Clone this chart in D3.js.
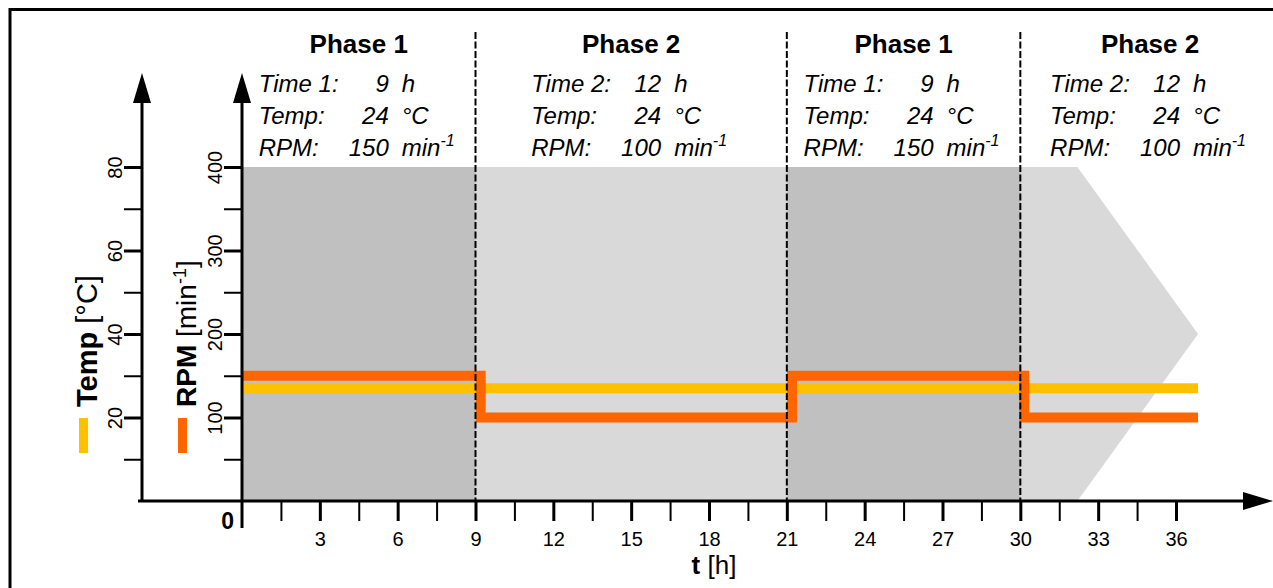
<!DOCTYPE html>
<html>
<head>
<meta charset="utf-8">
<script src="https://cdn.jsdelivr.net/npm/d3@7"></script>
<style>
  body{ margin:0; background:#fff; }
  svg text{ font-family:"Liberation Sans", Arial, sans-serif; fill:#000; }
</style>
</head>
<body>
<div id="chart"></div>
<script>
// Phase table, as printed above the plot.
const phaseNames  = [ 'Phase 1', 'Phase 2', 'Phase 1', 'Phase 2' ];
const phaseStart  = [ 0, 9, 21, 30 ];
const phaseEnd    = [ 9, 21, 30, 40 ];
const timeLabels  = [ 'Time 1:', 'Time 2:', 'Time 1:', 'Time 2:' ];
const phaseHours  = [ 9, 12, 9, 12 ];
const phaseTemps  = [ 24, 24, 24, 24 ];
const phaseRpms   = [ 150, 100, 150, 100 ];

// Traces as drawn.
const rpmTimes    = [ 0, 9.2, 21.2, 30.15, 36.85 ];
const rpmValues   = [ 150, 100, 150, 100, 100 ];
const tempTimes   = [ 0, 36.85 ];
const tempValues  = [ 27, 27 ];

// Grey background arrow (hours).
const arrowFlatEnd = 32.2;
const arrowTip     = 36.85;

// Ticks.
const xTicks    = d3.range( 1.5, 36.01, 1.5 );
const tempTicks = [ 10, 20, 30, 40, 50, 60, 70, 80 ];
const rpmTicks  = [ 50, 100, 150, 200, 250, 300, 350, 400 ];

const W = 1273, H = 588;
const YELLOW = '#ffc000', ORANGE = '#ff6600', DARK = '#c0c0c0', LIGHT = '#d9d9d9';

const svg = d3.select( '#chart' ).append( 'svg' )
  .attr( 'width', W ).attr( 'height', H );

// Scales.
const x = d3.scaleLinear().domain( [ 0, 36 ] ).range( [ 242, 1176 ] );
const yRpm = d3.scaleLinear().domain( [ 0, 400 ] ).range( [ 501, 167 ] );
const yTemp = d3.scaleLinear().domain( [ 0, 80 ] ).range( [ 501, 167 ] );

// Frame (cut off on the right and bottom in the original).
svg.append( 'rect' )
  .attr( 'x', 10 ).attr( 'y', 9.5 ).attr( 'width', 1300 ).attr( 'height', 600 )
  .attr( 'fill', 'none' ).attr( 'stroke', '#000' ).attr( 'stroke-width', 3 );

// Light grey arrow behind everything.
const arrowPts = [
  [ x( 0 ), yRpm( 400 ) ], [ x( arrowFlatEnd ), yRpm( 400 ) ],
  [ x( arrowTip ), yRpm( 200 ) ], [ x( arrowFlatEnd ), yRpm( 0 ) ], [ x( 0 ), yRpm( 0 ) ]
];
svg.append( 'polygon' )
  .attr( 'points', arrowPts.map( p => p.join( ',' ) ).join( ' ' ) )
  .attr( 'fill', LIGHT );

// Dark bands for every "Phase 1".
const phases = phaseNames.map( ( n, i ) => ( {
  name: n, start: phaseStart[i], end: phaseEnd[i], time: timeLabels[i],
  hours: phaseHours[i], temp: phaseTemps[i], rpm: phaseRpms[i]
} ) );
svg.selectAll( 'rect.band' )
  .data( phases.filter( p => p.name === 'Phase 1' ) )
  .enter().append( 'rect' )
    .attr( 'class', 'band' )
    .attr( 'x', d => x( d.start ) )
    .attr( 'y', yRpm( 400 ) )
    .attr( 'width', d => x( d.end ) - x( d.start ) )
    .attr( 'height', yRpm( 0 ) - yRpm( 400 ) )
    .attr( 'fill', DARK );

// Temperature trace.
svg.append( 'path' )
  .attr( 'd', d3.line().x( d => x( d[0] ) ).y( d => yTemp( d[1] ) )( tempTimes.map( ( t, i ) => [ t, tempValues[i] ] ) ) )
  .attr( 'fill', 'none' ).attr( 'stroke', YELLOW ).attr( 'stroke-width', 10 );

// RPM trace (step).
svg.append( 'path' )
  .attr( 'd', d3.line().curve( d3.curveStepAfter ).x( d => x( d[0] ) ).y( d => yRpm( d[1] ) )( rpmTimes.map( ( t, i ) => [ t, rpmValues[i] ] ) ) )
  .attr( 'fill', 'none' ).attr( 'stroke', ORANGE ).attr( 'stroke-width', 10 )
  .attr( 'stroke-linejoin', 'miter' ).attr( 'stroke-linecap', 'butt' );

// Dashed phase separators.
svg.selectAll( 'line.sep' )
  .data( phaseStart.slice( 1 ) )
  .enter().append( 'line' )
    .attr( 'x1', d => x( d ) ).attr( 'x2', d => x( d ) )
    .attr( 'y1', 32 ).attr( 'y2', yRpm( 0 ) )
    .attr( 'stroke', '#000' ).attr( 'stroke-width', 2 )
    .attr( 'stroke-dasharray', '7,2.5' );

// X axis ticks.
const xAxis = svg.append( 'g' )
  .attr( 'transform', 'translate(0,' + yRpm( 0 ) + ')' )
  .call( d3.axisBottom( x ).tickValues( xTicks ).tickSize( 20 )
    .tickFormat( d => d % 3 === 0 ? d : '' ) );
xAxis.select( '.domain' ).remove();
xAxis.selectAll( '.tick line' )
  .attr( 'stroke-width', d => d % 3 === 0 ? 3 : 2 );
xAxis.selectAll( '.tick text' )
  .attr( 'y', 45 ).attr( 'dy', 0 )
  .style( 'font-size', '20px' );

// Y axes ticks with rotated labels.
function yAxis( scale, ticks, xPos, step ){
  const g = svg.append( 'g' )
    .attr( 'transform', 'translate(' + xPos + ',0)' )
    .call( d3.axisLeft( scale ).tickValues( ticks ).tickSize( 18 )
      .tickFormat( d => d % step === 0 ? d : '' ) );
  g.select( '.domain' ).remove();
  g.selectAll( '.tick line' ).attr( 'stroke-width', d => d % step === 0 ? 3 : 2 );
  g.selectAll( '.tick text' )
    .attr( 'x', null ).attr( 'dy', 0 )
    .attr( 'text-anchor', 'middle' )
    .attr( 'transform', 'translate(-20,0) rotate(-90)' )
    .style( 'font-size', '20px' );
  return g;
}
yAxis( yTemp, tempTicks, 142, 20 );
yAxis( yRpm, rpmTicks, 242, 100 );

// Axis lines with arrow heads.
const axisG = svg.append( 'g' ).attr( 'stroke', '#000' ).attr( 'stroke-width', 3 );
axisG.append( 'line' ).attr( 'x1', 138 ).attr( 'x2', 1250 ).attr( 'y1', yRpm( 0 ) ).attr( 'y2', yRpm( 0 ) );
axisG.append( 'line' ).attr( 'x1', 142 ).attr( 'x2', 142 ).attr( 'y1', yRpm( 0 ) ).attr( 'y2', 95 );
axisG.append( 'line' ).attr( 'x1', x( 0 ) ).attr( 'x2', x( 0 ) ).attr( 'y1', 528 ).attr( 'y2', 95 );
const heads = [
  [ [ 1273, yRpm( 0 ) ], [ 1243, yRpm( 0 ) - 9 ], [ 1243, yRpm( 0 ) + 9 ] ],
  [ [ 142, 73 ], [ 133, 103 ], [ 151, 103 ] ],
  [ [ x( 0 ), 73 ], [ x( 0 ) - 9, 103 ], [ x( 0 ) + 9, 103 ] ]
];
svg.selectAll( 'polygon.head' )
  .data( heads )
  .enter().append( 'polygon' )
    .attr( 'points', d => d.map( p => p.join( ',' ) ).join( ' ' ) )
    .attr( 'fill', '#000' );

// Origin label.
svg.append( 'text' )
  .attr( 'x', 234 ).attr( 'y', 529 )
  .attr( 'text-anchor', 'end' )
  .style( 'font-size', '23px' ).style( 'font-weight', 'bold' )
  .text( '0' );

// x axis title.
const tTitle = svg.append( 'text' )
  .attr( 'x', 714 ).attr( 'y', 574 )
  .attr( 'text-anchor', 'middle' )
  .style( 'font-size', '26px' );
tTitle.append( 'tspan' ).style( 'font-weight', 'bold' ).text( 't' );
tTitle.append( 'tspan' ).text( ' [h]' );

// y axis titles.
const tempTitle = svg.append( 'text' )
  .attr( 'transform', 'translate(97,407) rotate(-90)' )
  .style( 'font-size', '29px' );
tempTitle.append( 'tspan' ).style( 'font-weight', 'bold' ).text( 'Temp' );
tempTitle.append( 'tspan' ).text( ' [°C]' );

const rpmTitle = svg.append( 'text' )
  .attr( 'transform', 'translate(196,407) rotate(-90)' )
  .style( 'font-size', '28px' );
rpmTitle.append( 'tspan' ).style( 'font-weight', 'bold' ).text( 'RPM' );
rpmTitle.append( 'tspan' ).text( ' [min' );
rpmTitle.append( 'tspan' ).attr( 'dy', -10 ).style( 'font-size', '18px' ).text( '-1' );
rpmTitle.append( 'tspan' ).attr( 'dy', 10 ).text( ']' );

// Legend swatches.
svg.append( 'rect' ).attr( 'x', 79 ).attr( 'y', 418 ).attr( 'width', 9 ).attr( 'height', 35 ).attr( 'fill', YELLOW );
svg.append( 'rect' ).attr( 'x', 178 ).attr( 'y', 418 ).attr( 'width', 9 ).attr( 'height', 35 ).attr( 'fill', ORANGE );

// Phase headers and settings.
const blocks = svg.selectAll( 'g.phase' )
  .data( phases )
  .enter().append( 'g' )
    .attr( 'class', 'phase' )
    .attr( 'transform', d => 'translate(' + x( ( d.start + d.end ) / 2 ) + ',0)' );

blocks.append( 'text' )
  .attr( 'x', 0 ).attr( 'y', 53 )
  .attr( 'text-anchor', 'middle' )
  .style( 'font-size', '26px' ).style( 'font-weight', 'bold' )
  .text( d => d.name );

const rows = d => [
  [ d.time, d.hours, 'h' ],
  [ 'Temp:', d.temp, '°C' ],
  [ 'RPM:', d.rpm, 'min' ]
];
blocks.each( function( d ){
  const g = d3.select( this );
  rows( d ).forEach( ( r, i ) => {
    const yy = 92 + i * 32;
    const style = t => t.style( 'font-size', '24px' ).style( 'font-style', 'italic' );
    style( g.append( 'text' ).attr( 'x', -100 ).attr( 'y', yy ).text( r[0] ) );
    style( g.append( 'text' ).attr( 'x', 30 ).attr( 'y', yy ).attr( 'text-anchor', 'end' ).text( r[1] ) );
    const u = style( g.append( 'text' ).attr( 'x', 43 ).attr( 'y', yy ) );
    u.append( 'tspan' ).text( r[2] );
    if( r[2] === 'min' ){
      u.append( 'tspan' ).attr( 'dy', -10 ).style( 'font-size', '16px' ).text( '-1' );
    }
  } );
} );
</script>
</body>
</html>
